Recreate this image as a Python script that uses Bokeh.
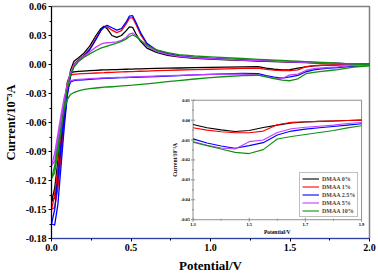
import math
from bokeh.plotting import figure
from bokeh.models import Range1d, Legend, LegendItem, FixedTicker, NumeralTickFormatter
from bokeh.core.properties import value
from bokeh.embed import file_html
from bokeh.resources import INLINE

# ---------------- data ----------------
V = [0.00, 0.02, 0.04, 0.06, 0.08, 0.10, 0.12, 0.14, 0.17, 0.20, 0.24, 0.28, 0.31, 0.33, 0.35,
     0.38, 0.41, 0.44, 0.47, 0.49, 0.51, 0.53, 0.56, 0.60, 0.66, 0.73, 0.80, 0.90, 1.00, 1.10,
     1.20, 1.30, 1.35, 1.40, 1.45, 1.50, 1.55, 1.60, 1.65, 1.70, 1.75, 1.80, 1.85, 1.90, 2.00]

SERIES = ["DMAA 0%", "DMAA 1%", "DMAA 2.5%", "DMAA 5%", "DMAA 10%"]
COLORS = ["#000000", "#ff0000", "#0000ff", "#c040ff", "#109010"]

# forward (upper) scan
up_0 = [-0.142, -0.138, -0.118, -0.088, -0.055, -0.025, -0.006, 0.003, 0.007, 0.011, 0.019, 0.030, 0.037, 0.0395, 0.037,
        0.030, 0.028, 0.030, 0.035, 0.039, 0.0385, 0.032, 0.024, 0.017, 0.0125, 0.0095, 0.0078, 0.0064, 0.0055, 0.0048,
        0.0042, 0.0036, 0.0033, 0.0031, 0.0028, 0.0026, 0.0023, 0.0020, 0.0017, 0.0014, 0.0012, 0.0009, 0.0007, 0.0005, 0.0002]
up_1 = [-0.150, -0.148, -0.128, -0.095, -0.060, -0.030, -0.010, 0.000, 0.005, 0.009, 0.016, 0.027, 0.035, 0.0385, 0.039,
        0.0355, 0.033, 0.035, 0.042, 0.048, 0.0485, 0.042, 0.031, 0.021, 0.0145, 0.011, 0.0088, 0.0072, 0.0062, 0.0054,
        0.0047, 0.0040, 0.0037, 0.0034, 0.0031, 0.0028, 0.0025, 0.0022, 0.0019, 0.0016, 0.0013, 0.0011, 0.0008, 0.0006, 0.0003]
up_2 = [-0.165, -0.166, -0.145, -0.105, -0.065, -0.032, -0.012, -0.002, 0.004, 0.008, 0.015, 0.026, 0.035, 0.039, 0.0405,
        0.038, 0.0355, 0.037, 0.044, 0.050, 0.0505, 0.044, 0.033, 0.022, 0.015, 0.0112, 0.009, 0.0073, 0.0063, 0.0055,
        0.0048, 0.0041, 0.0038, 0.0035, 0.0032, 0.0029, 0.0026, 0.0023, 0.0020, 0.0017, 0.0014, 0.0011, 0.0009, 0.0006, 0.0003]
up_3 = [-0.105, -0.100, -0.080, -0.058, -0.037, -0.020, -0.008, -0.001, 0.004, 0.008, 0.013, 0.018, 0.021, 0.0222, 0.0225,
        0.0228, 0.0235, 0.025, 0.028, 0.0315, 0.0325, 0.030, 0.025, 0.019, 0.0135, 0.0105, 0.0085, 0.0070, 0.0060, 0.0053,
        0.0046, 0.0040, 0.0037, 0.0034, 0.0031, 0.0028, 0.0025, 0.0022, 0.0019, 0.0016, 0.0013, 0.0010, 0.0008, 0.0005, 0.0002]
up_4 = [-0.118, -0.112, -0.092, -0.068, -0.045, -0.025, -0.011, -0.003, 0.003, 0.007, 0.011, 0.0145, 0.017, 0.018, 0.019,
        0.0205, 0.022, 0.024, 0.0265, 0.029, 0.0305, 0.029, 0.025, 0.020, 0.0152, 0.0122, 0.0102, 0.0088, 0.0078, 0.0070,
        0.0062, 0.0054, 0.0050, 0.0046, 0.0042, 0.0038, 0.0034, 0.0030, 0.0026, 0.0022, 0.0018, 0.0013, 0.0009, 0.0005, -0.0002]

# reverse (lower) scan
low_0 = [-0.142, -0.128, -0.100, -0.070, -0.040, -0.018, -0.009, -0.0077, -0.0072, -0.0068, -0.0064, -0.0060, -0.0057, -0.0056, -0.0055,
         -0.0053, -0.0052, -0.0050, -0.0049, -0.0048, -0.0047, -0.0046, -0.0045, -0.0043, -0.0041, -0.0038, -0.0036, -0.0033, -0.0030, -0.0027,
         -0.0024, -0.0022, -0.0038, -0.0049, -0.0057, -0.0052, -0.0037, -0.0025, -0.0014, -0.0009, -0.0006, -0.0004, -0.0002, 0.0000, 0.0002]
low_1 = [-0.150, -0.135, -0.108, -0.075, -0.044, -0.020, -0.011, -0.0102, -0.0098, -0.0095, -0.0091, -0.0088, -0.0086, -0.0085, -0.0083,
         -0.0081, -0.0079, -0.0077, -0.0075, -0.0074, -0.0073, -0.0072, -0.0070, -0.0068, -0.0064, -0.0060, -0.0057, -0.0053, -0.0049, -0.0045,
         -0.0041, -0.0038, -0.0050, -0.0058, -0.0063, -0.0063, -0.0055, -0.0023, -0.0011, -0.0008, -0.0006, -0.0004, -0.0002, 0.0000, 0.0001]
low_2 = [-0.165, -0.150, -0.118, -0.082, -0.050, -0.027, -0.018, -0.0167, -0.0162, -0.0158, -0.0153, -0.0148, -0.0145, -0.0143, -0.0142,
         -0.0140, -0.0138, -0.0136, -0.0135, -0.0134, -0.0133, -0.0132, -0.0130, -0.0128, -0.0124, -0.0120, -0.0115, -0.0108, -0.0102, -0.0096,
         -0.0093, -0.0094, -0.0115, -0.0130, -0.0141, -0.0128, -0.0113, -0.0075, -0.0055, -0.0045, -0.0038, -0.0032, -0.0025, -0.0018, -0.0008]
low_3 = [-0.105, -0.092, -0.072, -0.052, -0.034, -0.022, -0.017, -0.0160, -0.0155, -0.0151, -0.0147, -0.0143, -0.0140, -0.0139, -0.0138,
         -0.0136, -0.0134, -0.0133, -0.0131, -0.0130, -0.0129, -0.0128, -0.0126, -0.0124, -0.0120, -0.0116, -0.0112, -0.0107, -0.0103, -0.0100,
         -0.0100, -0.0107, -0.0126, -0.0140, -0.0145, -0.0108, -0.0100, -0.0062, -0.0043, -0.0036, -0.0031, -0.0025, -0.0017, -0.0012, -0.0005]
low_4 = [-0.118, -0.105, -0.085, -0.065, -0.047, -0.036, -0.031, -0.0290, -0.0272, -0.0260, -0.0250, -0.0243, -0.0238, -0.0235, -0.0233,
         -0.0230, -0.0226, -0.0222, -0.0218, -0.0215, -0.0213, -0.0210, -0.0206, -0.0200, -0.0190, -0.0178, -0.0166, -0.0150, -0.0136, -0.0124,
         -0.0115, -0.0111, -0.0128, -0.0145, -0.0162, -0.0168, -0.0148, -0.0095, -0.0082, -0.0072, -0.0062, -0.0052, -0.0039, -0.0028, -0.0015]

UPS = [up_0, up_1, up_2, up_3, up_4]
LOWS = [low_0, low_1, low_2, low_3, low_4]

X_RANGE = (0.0, 2.0)
Y_RANGE = (-0.18, 0.06)
X_TICKS = [0.0, 0.5, 1.0, 1.5, 2.0]
Y_TICKS = [-0.18, -0.15, -0.12, -0.09, -0.06, -0.03, 0.00, 0.03, 0.06]
INSET_X_RANGE = (1.3, 1.9)
INSET_Y_RANGE = (-0.05, 0.01)
INSET_X_TICKS = [1.3, 1.5, 1.7, 1.9]
INSET_Y_TICKS = [-0.05, -0.04, -0.03, -0.02, -0.01, 0.00, 0.01]

FONT = "Liberation Serif"

# inset box as fractions of the main frame (left, right, bottom, top)
BOX = (0.445, 0.975, 0.081, 0.596)


def minors(ticks, n=1):
    out = []
    for a, b in zip(ticks[:-1], ticks[1:]):
        for k in range(1, n + 1):
            out.append(a + (b - a) * k / (n + 1))
    return out


def frac_range(lo, hi, f0, f1):
    span = (hi - lo) / (f1 - f0)
    start = lo - f0 * span
    return Range1d(start, start + span)


# ---------------- main figure ----------------
p = figure(width=378, height=275,
           x_range=Range1d(*X_RANGE), y_range=Range1d(*Y_RANGE),
           output_backend="svg", toolbar_location=None,
           min_border_left=50, min_border_right=9, min_border_top=6, min_border_bottom=34,
           x_axis_label="Potential/V", y_axis_label="Current/10\u207b\u00b3A")
p.outline_line_color = "#808080"
p.outline_line_width = 1.5
p.background_fill_color = "white"
p.border_fill_color = "white"
p.xgrid.visible = False
p.ygrid.visible = False

p.xaxis.ticker = FixedTicker(ticks=X_TICKS, minor_ticks=minors(X_TICKS))
p.yaxis.ticker = FixedTicker(ticks=Y_TICKS, minor_ticks=minors(Y_TICKS))
p.xaxis.formatter = NumeralTickFormatter(format="0.0")
p.yaxis.formatter = NumeralTickFormatter(format="0.00")
for ax in (p.xaxis[0], p.yaxis[0]):
    ax.major_label_text_font = FONT
    ax.major_label_text_font_style = "bold"
    ax.major_label_text_font_size = "10px"
    ax.major_label_text_color = "#000000"
    ax.axis_label_text_font = FONT
    ax.axis_label_text_font_style = "bold"
    ax.axis_label_text_color = "#000000"
    ax.axis_line_color = "#000000"
    ax.major_tick_line_color = "#000000"
    ax.minor_tick_line_color = "#000000"
    ax.major_tick_out = 3
    ax.major_tick_in = 0
    ax.minor_tick_out = 2
    ax.minor_tick_in = 0
    ax.major_label_standoff = 2
p.yaxis.axis_label_text_font_size = "12.5px"
p.yaxis.axis_label_standoff = 5
p.xaxis.axis_label_text_font_size = "13px"
p.xaxis.axis_label_standoff = 4
p.xaxis.axis_line_color = "#3040a0"

for up, low, col in zip(UPS, LOWS, COLORS):
    xs = V + V[::-1]
    ys = up + low[::-1]
    p.line(xs, ys, line_color=col, line_width=1.3, line_join="round")

# ---------------- inset (drawn through its own ranges) ----------------
p.extra_x_ranges = {"ix": frac_range(*INSET_X_RANGE, BOX[0], BOX[1])}
p.extra_y_ranges = {"iy": frac_range(*INSET_Y_RANGE, BOX[2], BOX[3])}
IR = dict(x_range_name="ix", y_range_name="iy")
x0, x1 = INSET_X_RANGE
y0, y1 = INSET_Y_RANGE

p.quad(left=[x0], right=[x1], bottom=[y0], top=[y1], fill_color="white",
       line_color="#909090", line_width=1, **IR)

# tick marks
p.scatter(x=[x0] * len(INSET_Y_TICKS), y=INSET_Y_TICKS, marker="dash", size=4,
          line_color="#909090", line_width=1, **IR)
p.scatter(x=[x0] * len(minors(INSET_Y_TICKS)), y=minors(INSET_Y_TICKS), marker="dash", size=2,
          line_color="#909090", line_width=1, **IR)
p.scatter(x=INSET_X_TICKS, y=[y0] * len(INSET_X_TICKS), marker="dash", size=4, angle=math.pi / 2,
          line_color="#909090", line_width=1, **IR)
p.scatter(x=minors(INSET_X_TICKS), y=[y0] * len(minors(INSET_X_TICKS)), marker="dash", size=2,
          angle=math.pi / 2, line_color="#909090", line_width=1, **IR)

# tick labels
p.text(x=[x0] * len(INSET_Y_TICKS), y=INSET_Y_TICKS, text=[f"{t:.2f}" for t in INSET_Y_TICKS],
       x_offset=-3, text_align="right", text_baseline="middle",
       text_font=value(FONT), text_font_style="bold", text_font_size="4.5px", text_color="#000000", **IR)
p.text(x=INSET_X_TICKS, y=[y0] * len(INSET_X_TICKS), text=[f"{t:.1f}" for t in INSET_X_TICKS],
       y_offset=3, text_align="center", text_baseline="top",
       text_font=value(FONT), text_font_style="bold", text_font_size="4.5px", text_color="#000000", **IR)
# axis titles
p.text(x=[(x0 + x1) / 2], y=[y0], text=["Potential/V"], y_offset=9, text_align="center",
       text_baseline="top", text_font=value(FONT), text_font_style="bold", text_font_size="5.5px",
       text_color="#000000", **IR)
p.text(x=[x0], y=[(y0 + y1) / 2], text=["Current/10\u207b\u00b3A"], x_offset=-15, angle=math.pi / 2,
       text_align="center", text_baseline="bottom", text_font=value(FONT), text_font_style="bold",
       text_font_size="5.5px", text_color="#000000", **IR)

items = []
for low, col, name in zip(LOWS, COLORS, SERIES):
    xs = [v for v in V if x0 <= v <= x1]
    ys = [y for v, y in zip(V, low) if x0 <= v <= x1]
    r = p.line(xs, ys, line_color=col, line_width=1.1, line_join="round", **IR)
    items.append(LegendItem(label=name, renderers=[r]))

legend = Legend(items=items, location=(248, 21))
legend.label_text_font = FONT
legend.label_text_font_style = "bold"
legend.label_text_font_size = "6px"
legend.label_height = 7
legend.glyph_height = 7
legend.glyph_width = 17
legend.spacing = 1
legend.padding = 2
legend.margin = 0
legend.label_standoff = 3
legend.border_line_color = "#808080"
legend.border_line_width = 1
legend.background_fill_alpha = 1.0
p.add_layout(legend)

open("out.html", "w").write(file_html(p, INLINE))
